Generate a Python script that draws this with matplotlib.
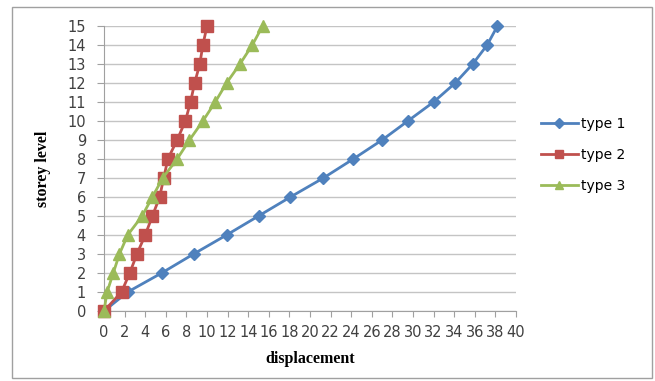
import matplotlib
matplotlib.use("Agg")
import matplotlib.pyplot as plt
from matplotlib.patches import Rectangle

# storey levels and displacement for each type
levels = list(range(16))
type1 = [0, 2.3, 5.6, 8.7, 11.9, 15.0, 18.1, 21.3, 24.2, 27.0, 29.5, 32.0, 34.1, 35.8, 37.2, 38.2]
type2 = [0, 1.7, 2.5, 3.2, 4.0, 4.7, 5.4, 5.8, 6.2, 7.1, 7.9, 8.4, 8.8, 9.3, 9.6, 10.0]
type3 = [0, 0.3, 0.9, 1.5, 2.3, 3.7, 4.7, 5.7, 7.1, 8.3, 9.6, 10.8, 11.9, 13.2, 14.4, 15.4]
x_ticks = list(range(0, 41, 2))
y_ticks = list(range(0, 16))

fig = plt.figure(figsize=(6.55, 3.81), dpi=100)
ax = fig.add_axes([104 / 655, 1 - 311 / 381, 412 / 655, 285 / 381])

# outer chart frame
fig.patches.append(Rectangle((12 / 655, 1 - 378 / 381), 640 / 655, 371 / 381,
                             transform=fig.transFigure, fill=False,
                             edgecolor="#a0a0a0", linewidth=1))

ax.plot(type1, levels, marker="D", markersize=6.5, color="#4F81BD", linewidth=2,
        label="type 1", clip_on=False, zorder=3)
ax.plot(type2, levels, marker="s", markersize=8, color="#C0504D", linewidth=2,
        label="type 2", clip_on=False, zorder=4)
ax.plot(type3, levels, marker="^", markersize=8, color="#9BBB59", linewidth=2,
        label="type 3", clip_on=False, zorder=5)

ax.set_xlim(0, 40)
ax.set_ylim(0, 15)
ax.set_xticks(x_ticks)
ax.set_yticks(y_ticks)
ax.grid(True, axis="y", color="#c4c4c4", linewidth=1)
ax.set_axisbelow(True)
for s in ["top", "right"]:
    ax.spines[s].set_visible(False)
ax.spines["left"].set_color("#a0a0a0")
ax.spines["bottom"].set_color("#a0a0a0")
ax.tick_params(axis="x", direction="out", length=4, color="#a0a0a0", pad=6,
               labelsize=10.5, labelcolor="#404040")
ax.tick_params(axis="y", direction="out", length=5, color="#a0a0a0", pad=8,
               labelsize=10.5, labelcolor="#404040")

ax.set_xlabel("displacement", family="Liberation Serif", fontweight="bold",
              fontsize=11.5, labelpad=8)
ax.set_ylabel("storey level", family="Liberation Serif", fontweight="bold",
              fontsize=11.5, labelpad=12)

fig.legend(loc="center left", bbox_to_anchor=(528 / 655, 1 - 155 / 381),
           frameon=False, fontsize=10, handlelength=2.7, labelspacing=1.2,
           handletextpad=0.2, markerscale=0.75)

fig.savefig("out.png", dpi=100)
